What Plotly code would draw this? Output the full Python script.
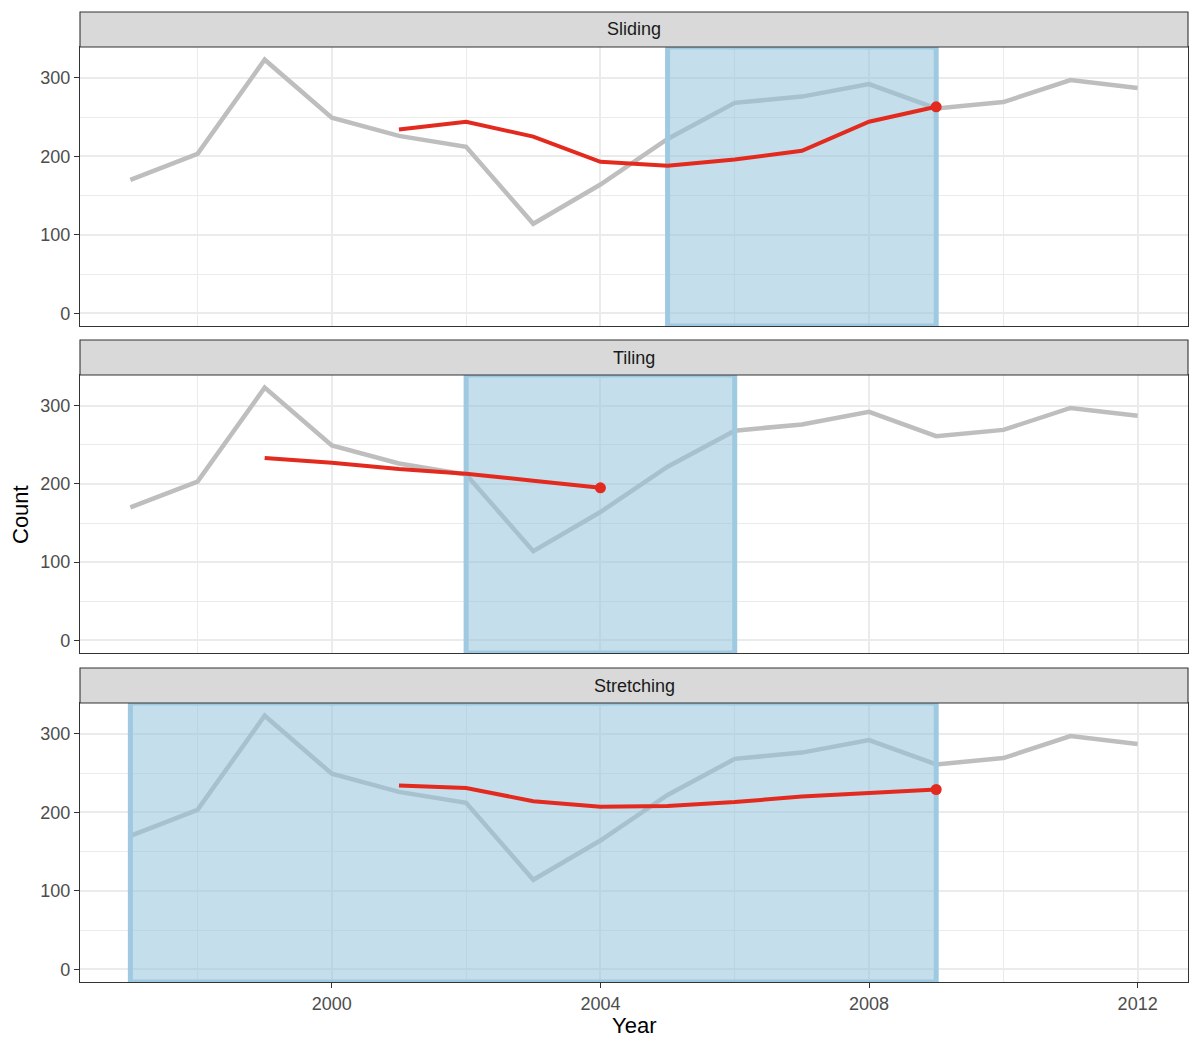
import plotly.graph_objects as go

# ---------------- data ----------------
years = list(range(1997, 2013))
counts = [170, 203, 323, 249, 226, 212, 114, 164, 222, 268, 276, 292, 261, 269, 297, 287]

panels = ["Sliding", "Tiling", "Stretching"]
window_start = [2005, 2002, 1997]
window_end = [2009, 2006, 2009]

sliding_years = [2001, 2002, 2003, 2004, 2005, 2006, 2007, 2008, 2009]
sliding_vals = [234, 244, 225, 193, 188, 196, 207, 244, 263]

tiling_years = [1999, 2000, 2001, 2002, 2003, 2004]
tiling_vals = [233, 227, 219, 213, 204, 195]

stretch_years = [2001, 2002, 2003, 2004, 2005, 2006, 2007, 2008, 2009]
stretch_vals = [234, 231, 214, 207, 208, 213, 220, 225, 229]

forecast_years = [sliding_years, tiling_years, stretch_years]
forecast_vals = [sliding_vals, tiling_vals, stretch_vals]

x_ticks = [2000, 2004, 2008, 2012]
y_ticks = [0, 100, 200, 300]

# ---------------- layout constants ----------------
XR = [1996.25, 2012.75]
YR = [-16.15, 339.15]
FONT = "Liberation Sans, Arial, sans-serif"
GRAY = "#BEBEBE"
RED = "#E32A1F"
FILL = "rgba(150,195,220,0.55)"
EDGE = "rgb(158,201,225)"

# pixel geometry (plot area 80..1188 x 12..982)
H_PLOT = 970.0
def py(y):
    return (982 - y) / H_PLOT

plot_dom = [(py(326), py(47)), (py(653), py(375)), (py(982), py(703))]
strip_dom = [(py(47), py(12)), (py(375), py(340)), (py(703), py(668))]

fig = go.Figure()
for i, name in enumerate(panels):
    xa = "x" if i == 0 else f"x{i+1}"
    ya = "y" if i == 0 else f"y{i+1}"
    # background series
    fig.add_trace(go.Scatter(x=years, y=counts, mode="lines",
                             line=dict(color=GRAY, width=4.5),
                             xaxis=xa, yaxis=ya, showlegend=False, hoverinfo="skip"))
    # window rectangle (over grey line)
    x0, x1 = window_start[i], window_end[i]
    fig.add_trace(go.Scatter(x=[x0, x1, x1, x0, x0],
                             y=[YR[0], YR[0], YR[1], YR[1], YR[0]],
                             mode="lines", fill="toself", fillcolor=FILL,
                             line=dict(color=EDGE, width=5),
                             xaxis=xa, yaxis=ya, showlegend=False, hoverinfo="skip"))
    # forecast line
    fy, fv = forecast_years[i], forecast_vals[i]
    fig.add_trace(go.Scatter(x=fy, y=fv, mode="lines",
                             line=dict(color=RED, width=4),
                             xaxis=xa, yaxis=ya, showlegend=False))
    fig.add_trace(go.Scatter(x=[fy[-1]], y=[fv[-1]], mode="markers",
                             marker=dict(color=RED, size=11),
                             xaxis=xa, yaxis=ya, showlegend=False))

    last = (i == len(panels) - 1)
    xkey = "xaxis" if i == 0 else f"xaxis{i+1}"
    ykey = "yaxis" if i == 0 else f"yaxis{i+1}"
    fig.layout[xkey] = dict(
        domain=[0, 1], range=XR, anchor=ya,
        tickvals=x_ticks, ticktext=[str(v) for v in x_ticks],
        showticklabels=last, ticks="outside" if last else "",
        ticklen=5, tickwidth=1.1, tickcolor="#333333",
        tickfont=dict(family=FONT, size=18, color="#4D4D4D"),
        showgrid=True, gridcolor="#EBEBEB", gridwidth=1.5,
        minor=dict(tickvals=[1998, 2002, 2006, 2010], showgrid=True,
                   gridcolor="#EBEBEB", gridwidth=0.8, ticks=""),
        showline=True, mirror=True, linecolor="#333333", linewidth=1.1,
        zeroline=False,
    )
    fig.layout[ykey] = dict(
        domain=list(plot_dom[i]), range=YR, anchor=xa,
        tickvals=y_ticks, ticktext=[str(v) for v in y_ticks],
        ticks="outside", ticklen=5, tickwidth=1.1, tickcolor="#333333",
        tickfont=dict(family=FONT, size=18, color="#4D4D4D"),
        showgrid=True, gridcolor="#EBEBEB", gridwidth=1.5,
        minor=dict(tickvals=[50, 150, 250], showgrid=True,
                   gridcolor="#EBEBEB", gridwidth=0.8, ticks=""),
        showline=True, mirror=True, linecolor="#333333", linewidth=1.1,
        zeroline=False,
    )
    # strip
    s0, s1 = strip_dom[i]
    fig.add_shape(type="rect", xref="paper", yref="paper", x0=0, x1=1, y0=s0, y1=s1,
                  fillcolor="#D9D9D9", line=dict(color="#333333", width=1.1), layer="above")
    fig.add_annotation(text=name, xref="paper", yref="paper", x=0.5, y=(s0 + s1) / 2,
                       showarrow=False, font=dict(family=FONT, size=18, color="#1A1A1A"),
                       xanchor="center", yanchor="middle")

fig.add_annotation(text="Count", xref="paper", yref="paper", x=(20 - 80) / 1108, y=py(515),
                   textangle=-90, showarrow=False, xanchor="center", yanchor="middle",
                   font=dict(family=FONT, size=22, color="#000000"))
fig.add_annotation(text="Year", xref="paper", yref="paper", x=(634 - 80) / 1108, y=py(1025),
                   showarrow=False, xanchor="center", yanchor="middle",
                   font=dict(family=FONT, size=22, color="#000000"))

fig.update_layout(
    width=1200, height=1050,
    margin=dict(l=80, r=12, t=12, b=68, autoexpand=False),
    paper_bgcolor="white", plot_bgcolor="white",
    showlegend=False,
    font=dict(family=FONT),
)

fig.write_html("out.html")
